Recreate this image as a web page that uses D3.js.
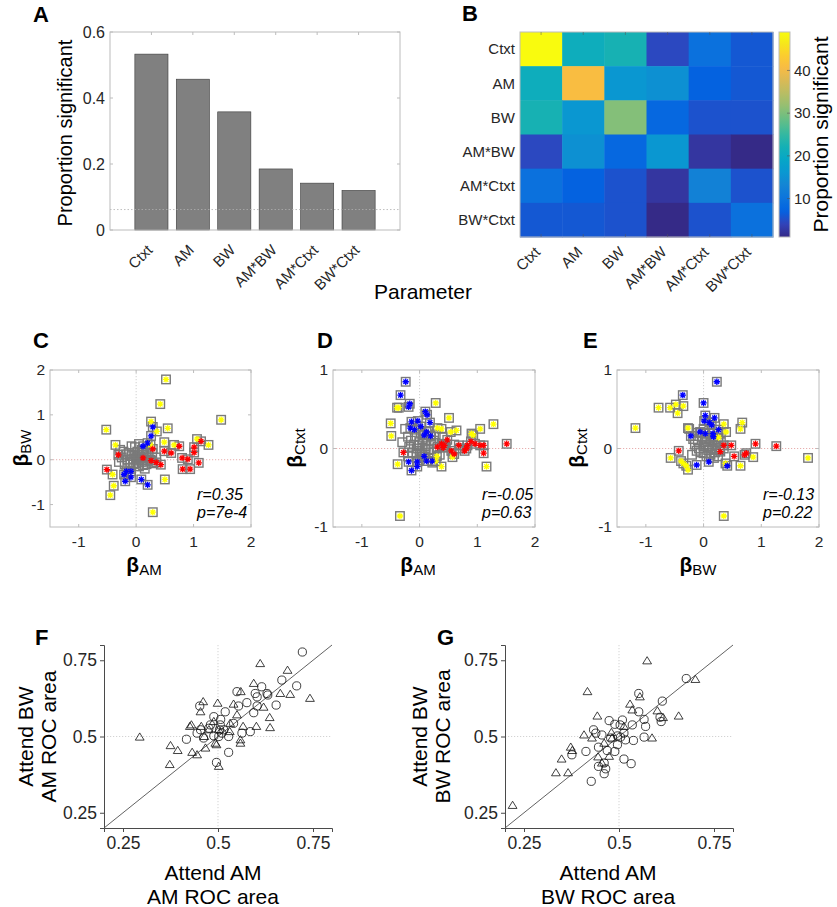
<!DOCTYPE html>
<html><head><meta charset="utf-8">
<script src="https://cdn.jsdelivr.net/npm/d3@7"></script>
<style>
body{margin:0;background:#fff;}
svg{display:block;font-family:"Liberation Sans",Arial,Helvetica,sans-serif;}
</style></head><body>
<svg id="fig" width="837" height="907"></svg>
<script>
// ---------------- DATA ----------------
const params = ["Ctxt","AM","BW","AM*BW","AM*Ctxt","BW*Ctxt"];
const propSignificant = [0.533,0.457,0.358,0.185,0.142,0.120];
const chanceLevel = 0.062;
const propTicks = [0,0.2,0.4,0.6];

const overlapMatrix = [
  [49,21,22.5,4.5,9.5,6],
  [21,41,16,15,7,6],
  [22.5,16,30.5,8,5.5,5.5],
  [4.5,15,8,16,2.5,1],
  [9.5,7,5.5,2.5,12.5,5.5],
  [6,6,5.5,1,5.5,9.5]
];
const cbarTicks = [10,20,30,40];

const betaTicks = [-1,0,1,2];
const ctxtTicks = [-1,0,1];

// Panel C: beta_AM vs beta_BW
const cGrey = [[-0.28,0.22],[-0.22,0.18],[-0.18,0.12],[-0.12,0.15],[-0.08,0.08],[-0.05,0.02],[0.0,0.05],[0.05,0.1],[0.08,0.02],[0.1,-0.05],[0.15,0.05],[0.18,0.12],[0.2,-0.02],[0.22,0.08],[-0.15,0.0],[-0.1,-0.05],[-0.05,-0.1],[0.0,-0.08],[0.05,-0.15],[0.12,-0.12],[-0.2,-0.1],[-0.25,0.05],[0.02,0.18],[0.1,0.22],[-0.02,0.28],[0.05,0.35],[-0.08,0.3],[0.25,0.0],[0.3,-0.08],[0.15,-0.2],[-0.12,-0.18],[0.0,0.0],[0.03,-0.02],[0.07,0.06],[-0.03,0.12],[0.12,0.15],[0.28,0.15],[-0.3,-0.05],[0.35,0.05],[0.18,-0.1]];
const cYellow = [[0.52,1.79],[0.42,1.24],[1.48,0.89],[0.26,0.85],[-0.52,0.67],[0.55,0.70],[0.36,0.63],[-0.36,0.33],[0.49,0.39],[0.66,0.33],[1.06,0.46],[1.26,0.33],[0.25,0.33],[-0.41,-0.33],[0.50,-0.44],[-0.39,-0.58],[-0.45,-0.79],[0.29,-1.17]];
const cRed = [[-0.31,0.11],[-0.51,-0.22],[0.29,0.24],[0.49,0.19],[0.61,0.15],[0.75,0.30],[1.01,0.28],[1.13,0.41],[1.01,0.16],[0.80,0.04],[0.90,0.01],[0.81,-0.21],[0.94,-0.21],[1.09,-0.07],[0.26,-0.02],[0.35,-0.06],[0.43,-0.11],[0.12,0.04]];
const cBlue = [[0.29,0.73],[0.26,0.53],[0.20,0.37],[0.12,0.30],[-0.17,-0.26],[-0.21,-0.33],[-0.19,-0.48],[-0.09,-0.39],[0.09,-0.44],[0.20,-0.56],[-0.09,-0.26]];

// Panel D: beta_AM vs beta_Ctxt
const dGrey = [[-0.25,0.25],[-0.2,0.15],[-0.15,0.1],[-0.1,0.05],[-0.05,0.0],[0.0,0.08],[0.05,0.12],[0.1,0.03],[0.15,-0.02],[0.2,0.06],[0.25,0.1],[-0.12,-0.05],[-0.05,-0.08],[0.0,-0.03],[0.05,-0.1],[0.1,-0.06],[0.18,-0.12],[0.25,-0.05],[0.3,0.0],[0.35,-0.08],[-0.2,-0.1],[0.08,0.18],[0.15,0.22],[0.02,0.2],[-0.08,0.15],[0.12,0.1],[0.2,0.15],[-0.02,0.04],[0.04,-0.05],[0.28,0.18],[-0.18,0.02],[0.4,0.15],[0.22,-0.18],[0.0,-0.15],[0.1,0.0],[0.6,0.05],[0.7,0.0],[0.45,0.02],[-0.3,0.08]];
const dYellow = [[-0.39,0.52],[-0.36,0.52],[0.28,0.58],[0.51,0.39],[-0.50,0.32],[-0.49,0.16],[0.31,0.26],[0.38,0.25],[0.54,0.21],[0.64,0.23],[0.93,0.17],[1.05,0.25],[1.28,0.31],[-0.38,-0.20],[0.30,-0.10],[0.38,-0.23],[0.57,-0.11],[0.28,-0.16],[1.16,-0.23],[-0.34,-0.86],[0.90,0.19]];
const dRed = [[-0.28,-0.05],[0.31,0.02],[0.38,0.06],[0.43,0.04],[0.48,0.11],[0.55,-0.03],[0.60,-0.07],[0.68,0.04],[0.78,-0.03],[0.83,0.04],[0.89,0.09],[0.96,0.06],[1.05,0.04],[1.11,0.04],[1.11,-0.06],[1.51,0.06],[0.81,0.0],[0.41,0.01]];
const dBlue = [[-0.24,0.85],[-0.33,0.68],[-0.17,0.57],[-0.19,0.53],[0.10,0.47],[0.13,0.43],[-0.14,0.34],[-0.03,0.35],[0.18,0.33],[0.02,0.28],[-0.16,0.26],[-0.09,0.24],[0.12,0.21],[0.08,0.17],[0.19,0.16],[-0.19,-0.17],[-0.04,-0.17],[-0.04,-0.23],[-0.14,-0.28],[0.12,-0.16],[0.22,-0.16],[0.08,-0.10]];

// Panel E: beta_BW vs beta_Ctxt
const eGrey = [[-0.15,0.05],[-0.1,0.1],[-0.08,0.0],[-0.05,-0.05],[0.0,0.03],[0.02,0.08],[0.05,0.12],[0.08,-0.02],[0.1,0.05],[0.12,-0.08],[0.15,0.0],[0.18,0.1],[0.2,-0.05],[0.22,0.04],[0.25,0.12],[0.28,-0.02],[-0.12,-0.03],[-0.02,0.15],[0.05,-0.1],[0.0,-0.06],[-0.05,0.2],[0.1,0.2],[0.3,0.08],[-0.18,0.12],[0.15,0.15],[0.08,0.02],[0.12,0.08],[0.35,0.0],[-0.1,0.2],[0.25,-0.1],[0.04,0.05],[-0.2,-0.08],[0.3,0.2],[0.18,-0.12],[0.0,0.25],[-0.25,0.25]];
const eYellow = [[-1.18,0.26],[-0.78,0.52],[-0.58,0.52],[-0.48,0.56],[-0.45,0.45],[-0.35,0.54],[-0.27,0.26],[-0.57,-0.12],[-0.39,-0.16],[-0.35,-0.19],[-0.30,-0.22],[-0.27,-0.27],[0.26,0.14],[0.35,0.31],[0.39,0.21],[0.67,0.33],[0.64,0.25],[0.38,-0.19],[0.64,-0.22],[0.86,-0.11],[1.81,-0.12],[0.35,-0.86]];
const eRed = [[-0.43,-0.03],[0.29,-0.04],[0.35,0.04],[0.48,0.04],[0.53,-0.10],[0.71,-0.08],[0.74,-0.06],[0.90,0.06],[1.26,0.03]];
const eBlue = [[0.23,0.85],[-0.36,0.68],[0.0,0.58],[0.03,0.42],[0.01,0.35],[0.19,0.39],[0.10,0.33],[0.14,0.30],[0.26,0.24],[-0.06,0.21],[0.03,0.19],[0.16,0.19],[0.17,0.15],[-0.22,0.16],[-0.12,-0.21],[0.09,-0.17],[0.41,-0.22]];

const statsC = ["r=0.35","p=7e-4"];
const statsD = ["r=-0.05","p=0.63"];
const statsE = ["r=-0.13","p=0.22"];

// Panel F: AM ROC area (attend AM vs attend BW)
const rocTicks = [0.25,0.5,0.75];
const fTriangles = [[0.611,0.739],[0.683,0.717],[0.594,0.674],[0.560,0.647],[0.664,0.641],[0.690,0.638],[0.742,0.625],[0.461,0.614],[0.499,0.609],[0.541,0.606],[0.454,0.581],[0.620,0.596],[0.636,0.562],[0.430,0.538],[0.426,0.533],[0.566,0.533],[0.601,0.533],[0.637,0.529],[0.456,0.533],[0.294,0.498],[0.375,0.470],[0.394,0.454],[0.432,0.448],[0.445,0.440],[0.373,0.408],[0.502,0.402],[0.496,0.473],[0.493,0.478],[0.559,0.489],[0.559,0.478],[0.467,0.462],[0.464,0.500],[0.476,0.522],[0.489,0.549],[0.532,0.543],[0.550,0.571],[0.531,0.516],[0.502,0.522]];
const fCircles = [[0.722,0.777],[0.615,0.663],[0.668,0.685],[0.707,0.666],[0.550,0.647],[0.598,0.641],[0.603,0.630],[0.629,0.641],[0.631,0.636],[0.576,0.611],[0.603,0.600],[0.653,0.603],[0.452,0.600],[0.554,0.600],[0.594,0.578],[0.519,0.581],[0.489,0.565],[0.507,0.556],[0.480,0.538],[0.476,0.527],[0.454,0.522],[0.445,0.511],[0.417,0.491],[0.462,0.495],[0.506,0.538],[0.504,0.522],[0.510,0.511],[0.502,0.500],[0.528,0.500],[0.541,0.543],[0.563,0.511],[0.585,0.516],[0.528,0.448],[0.496,0.415],[0.489,0.502],[0.515,0.522]];

// Panel G: BW ROC area
const gTriangles = [[0.574,0.748],[0.701,0.687],[0.417,0.647],[0.555,0.630],[0.529,0.606],[0.535,0.587],[0.601,0.584],[0.616,0.562],[0.657,0.567],[0.443,0.567],[0.408,0.505],[0.429,0.495],[0.587,0.495],[0.480,0.513],[0.373,0.465],[0.377,0.454],[0.349,0.426],[0.334,0.381],[0.366,0.381],[0.445,0.433],[0.474,0.435],[0.455,0.413],[0.220,0.274],[0.482,0.495],[0.513,0.533],[0.461,0.478]];
const gCircles = [[0.677,0.690],[0.552,0.641],[0.614,0.616],[0.552,0.581],[0.474,0.552],[0.509,0.554],[0.489,0.540],[0.503,0.538],[0.566,0.556],[0.570,0.533],[0.608,0.563],[0.611,0.549],[0.535,0.538],[0.433,0.522],[0.439,0.511],[0.455,0.505],[0.478,0.495],[0.496,0.502],[0.504,0.498],[0.517,0.489],[0.538,0.487],[0.566,0.498],[0.413,0.451],[0.376,0.440],[0.446,0.465],[0.469,0.454],[0.461,0.413],[0.446,0.402],[0.465,0.394],[0.461,0.378],[0.513,0.426],[0.532,0.411],[0.427,0.353],[0.489,0.451],[0.496,0.473],[0.513,0.511]];

// ---------------- DRAWING ----------------
const svg = d3.select("#fig");
const TXT = "#262626";
const BOX = "#bcbcbc";

function letter(x, y, s){
  svg.append("text").attr("x",x).attr("y",y).attr("font-size",22).attr("font-weight","bold").attr("fill","#000").text(s);
}

// parula colormap (subsampled)
const parulaStops = [
 [0.2081,0.1663,0.5292],[0.1959,0.2645,0.7279],[0.0117,0.3875,0.8820],[0.0498,0.4586,0.8641],
 [0.0793,0.5200,0.8312],[0.0343,0.5966,0.8199],[0.0228,0.6535,0.7768],[0.0843,0.6928,0.7062],
 [0.2178,0.7250,0.6193],[0.3953,0.7459,0.5244],[0.5709,0.7485,0.4494],[0.7184,0.7411,0.3905],
 [0.8507,0.7299,0.3360],[0.9739,0.7314,0.2666],[0.9880,0.8066,0.1794],[0.9598,0.9218,0.0948],[0.9763,0.9831,0.0538]];
const parulaPos = parulaStops.map((d,i)=> i===parulaStops.length-1 ? 1 : i*4/63);
const parula = d3.scaleLinear().domain(parulaPos)
  .range(parulaStops.map(c=>d3.rgb(c[0]*255,c[1]*255,c[2]*255).toString()))
  .interpolate(d3.interpolateRgb).clamp(true);

// ===== Panel A =====
(function(){
  const L=110,R=400,T=32,B=230;
  const g = svg.append("g");
  const x = d3.scaleLinear().domain([0,7]).range([L,R]);
  const y = d3.scaleLinear().domain([0,0.6]).range([B,T]);
  const bw = x(0.8)-x(0);
  g.selectAll("rect.bar").data(propSignificant).enter().append("rect")
    .attr("x",(d,i)=>x(i+1)-bw/2).attr("width",bw)
    .attr("y",d=>y(d)).attr("height",d=>B-y(d))
    .attr("fill","#808080").attr("stroke","#3a3a3a").attr("stroke-width",0.6);
  g.append("line").attr("x1",L).attr("x2",R).attr("y1",y(chanceLevel)).attr("y2",y(chanceLevel))
    .attr("stroke","#b0b0b0").attr("stroke-width",0.8).attr("stroke-dasharray","1.5,2");
  g.append("rect").attr("x",L).attr("y",T).attr("width",R-L).attr("height",B-T)
    .attr("fill","none").attr("stroke",BOX).attr("stroke-width",1);
  params.forEach((p,i)=>{
    g.append("line").attr("x1",x(i+1)).attr("x2",x(i+1)).attr("y1",T).attr("y2",T+3).attr("stroke",BOX);
  });
  propTicks.forEach(t=>{
    g.append("line").attr("x1",R).attr("x2",R-3).attr("y1",y(t)).attr("y2",y(t)).attr("stroke",BOX);
    g.append("line").attr("x1",L).attr("x2",L+3).attr("y1",y(t)).attr("y2",y(t)).attr("stroke",BOX);
    g.append("text").attr("x",L-5).attr("y",y(t)).attr("dy","0.35em").attr("text-anchor","end")
      .attr("font-size",16).attr("fill",TXT).text(t===0?"0":d3.format(".1f")(t));
  });
  params.forEach((p,i)=>{
    g.append("text").attr("transform",`translate(${x(i+1)+2},${B+21}) rotate(-45)`)
      .attr("text-anchor","end").attr("font-size",15).attr("fill",TXT).text(p);
  });
  g.append("text").attr("transform",`translate(72,${(T+B)/2+2}) rotate(-90)`).attr("text-anchor","middle")
    .attr("font-size",20).attr("fill","#000").text("Proportion significant");
  svg.append("text").attr("x",423).attr("y",299).attr("text-anchor","middle").attr("font-size",21).attr("fill","#000").text("Parameter");
  letter(33,22,"A");
})();

// ===== Panel B =====
(function(){
  const L=520,R=773,T=32,B=237;
  const g = svg.append("g");
  const x = d3.scaleBand().domain(params).range([L,R]);
  const y = d3.scaleBand().domain(params).range([T,B]);
  const flat = overlapMatrix.flat();
  const ext = d3.extent(flat);
  const c = d3.scaleLinear().domain(ext).range([0,1]);
  overlapMatrix.forEach((row,i)=>row.forEach((v,j)=>{
    g.append("rect").attr("x",x(params[j])).attr("y",y(params[i]))
      .attr("width",x.bandwidth()+0.5).attr("height",y.bandwidth()+0.5)
      .attr("fill",parula(c(v)));
  }));
  g.append("rect").attr("x",L).attr("y",T).attr("width",R-L).attr("height",B-T)
    .attr("fill","none").attr("stroke",BOX).attr("stroke-width",1);
  params.forEach(p=>{
    const cx = x(p)+x.bandwidth()/2, cy = y(p)+y.bandwidth()/2;
    g.append("line").attr("x1",cx).attr("x2",cx).attr("y1",T).attr("y2",T+3).attr("stroke","#555").attr("stroke-opacity",0.5);
    g.append("line").attr("x1",cx).attr("x2",cx).attr("y1",B).attr("y2",B-3).attr("stroke","#555").attr("stroke-opacity",0.5);
    g.append("text").attr("x",L-5).attr("y",cy).attr("dy","0.35em").attr("text-anchor","end")
      .attr("font-size",15).attr("fill",TXT).text(p);
    g.append("text").attr("transform",`translate(${cx},${B+16}) rotate(-45)`)
      .attr("text-anchor","end").attr("font-size",15).attr("fill",TXT).text(p);
  });
  // colorbar
  const CL=779,CR=790;
  const cy = d3.scaleLinear().domain(ext).range([B,T]);
  const defs = svg.append("defs");
  const grad = defs.append("linearGradient").attr("id","cbar").attr("x1",0).attr("y1",1).attr("x2",0).attr("y2",0);
  d3.range(0,1.0001,0.02).forEach(t=>grad.append("stop").attr("offset",t).attr("stop-color",parula(t)));
  g.append("rect").attr("x",CL).attr("y",T).attr("width",CR-CL).attr("height",B-T).attr("fill","url(#cbar)")
    .attr("stroke",BOX).attr("stroke-width",1);
  cbarTicks.forEach(t=>{
    g.append("line").attr("x1",CR).attr("x2",CR-3).attr("y1",cy(t)).attr("y2",cy(t)).attr("stroke","#555").attr("stroke-opacity",0.6);
    g.append("text").attr("x",CR+4).attr("y",cy(t)).attr("dy","0.35em").attr("font-size",15).attr("fill",TXT).text(t);
  });
  g.append("text").attr("transform",`translate(828,${(T+B)/2}) rotate(-90)`).attr("text-anchor","middle")
    .attr("font-size",21).attr("fill","#000").text("Proportion significant");
  letter(462,21,"B");
})();

// ===== Panels C, D, E =====
function asterisk(r){
  const d=r*0.72;
  return `M${-r},0L${r},0M0,${-r}L0,${r}M${-d},${-d}L${d},${d}M${-d},${d}L${d},${-d}`;
}
function betaPanel(o){
  const g = svg.append("g");
  const x = d3.scaleLinear().domain(o.xDom).range([o.L,o.R]);
  const y = d3.scaleLinear().domain(o.yDom).range([o.B,o.T]);
  g.append("rect").attr("x",o.L).attr("y",o.T).attr("width",o.R-o.L).attr("height",o.B-o.T)
    .attr("fill","none").attr("stroke",BOX).attr("stroke-width",1);
  g.append("line").attr("x1",x(0)).attr("x2",x(0)).attr("y1",o.T).attr("y2",o.B)
    .attr("stroke","#c4c4c4").attr("stroke-width",0.8).attr("stroke-dasharray","1.2,1.8");
  g.append("line").attr("x1",o.L).attr("x2",o.R).attr("y1",y(0)).attr("y2",y(0))
    .attr("stroke","#e29a9a").attr("stroke-width",0.8).attr("stroke-dasharray","1.2,1.8");
  o.xTicks.forEach(t=>{
    g.append("line").attr("x1",x(t)).attr("x2",x(t)).attr("y1",o.B).attr("y2",o.B-3).attr("stroke",BOX);
    g.append("line").attr("x1",x(t)).attr("x2",x(t)).attr("y1",o.T).attr("y2",o.T+3).attr("stroke",BOX);
    g.append("text").attr("x",x(t)).attr("y",o.B+20).attr("text-anchor","middle").attr("font-size",15.5).attr("fill",TXT).text(t);
  });
  o.yTicks.forEach(t=>{
    g.append("line").attr("x1",o.L).attr("x2",o.L+3).attr("y1",y(t)).attr("y2",y(t)).attr("stroke",BOX);
    g.append("line").attr("x1",o.R).attr("x2",o.R-3).attr("y1",y(t)).attr("y2",y(t)).attr("stroke",BOX);
    g.append("text").attr("x",o.L-5).attr("y",y(t)).attr("dy","0.35em").attr("text-anchor","end").attr("font-size",15.5).attr("fill",TXT).text(t);
  });
  const all = o.grey.concat(o.yellow,o.red,o.blue);
  const s=8.5;
  g.selectAll("rect.sq").data(all).enter().append("rect")
    .attr("x",d=>x(d[0])-s/2).attr("y",d=>y(d[1])-s/2).attr("width",s).attr("height",s)
    .attr("fill","none").attr("stroke","#7a7a7a").attr("stroke-width",1.4);
  [[o.yellow,"#ffff00"],[o.red,"#ff0000"],[o.blue,"#0000ff"]].forEach(([arr,col])=>{
    g.selectAll(null).data(arr).enter().append("path")
      .attr("transform",d=>`translate(${x(d[0])},${y(d[1])})`)
      .attr("d",asterisk(3.2)).attr("stroke",col).attr("stroke-width",1.3).attr("fill","none");
  });
  o.stats.forEach((s2,i)=>{
    g.append("text").attr("x",o.statX).attr("y",i===0?500:518).attr("font-size",16).attr("font-style","italic").attr("fill","#000").text(s2);
  });
  const xl = g.append("text").attr("x",o.xlabX).attr("y",572).attr("text-anchor","middle").attr("fill","#000");
  xl.append("tspan").attr("font-size",21).attr("font-weight","bold").text("β");
  xl.append("tspan").attr("font-size",15).attr("dy",3).text(o.xSub);
  const yl = g.append("text").attr("transform",`translate(${o.ylabX},${o.ylabY}) rotate(-90)`).attr("text-anchor","middle").attr("fill","#000");
  yl.append("tspan").attr("font-size",21).attr("font-weight","bold").text("β");
  yl.append("tspan").attr("font-size",15).attr("dy",3).text(o.ySub);
  letter(o.letterX,348,o.letter);
}
betaPanel({L:50,R:251,T:370,B:527,xDom:[-1.5,2],yDom:[-1.5,2],xTicks:betaTicks,yTicks:betaTicks,
  grey:cGrey,yellow:cYellow,red:cRed,blue:cBlue,stats:statsC,statX:197,xlabX:144,xSub:"AM",ySub:"BW",ylabX:28,ylabY:448,letter:"C",letterX:33});
betaPanel({L:333,R:535,T:370,B:527,xDom:[-1.5,2],yDom:[-1,1],xTicks:betaTicks,yTicks:ctxtTicks,
  grey:dGrey,yellow:dYellow,red:dRed,blue:dBlue,stats:statsD,statX:482,xlabX:418,xSub:"AM",ySub:"Ctxt",ylabX:302,ylabY:448,letter:"D",letterX:317});
betaPanel({L:617,R:819,T:370,B:527,xDom:[-1.5,2],yDom:[-1,1],xTicks:betaTicks,yTicks:ctxtTicks,
  grey:eGrey,yellow:eYellow,red:eRed,blue:eBlue,stats:statsE,statX:763,xlabX:698,xSub:"BW",ySub:"Ctxt",ylabX:584,ylabY:448,letter:"E",letterX:583});

// ===== Panels F, G =====
function rocPanel(o){
  const g = svg.append("g");
  const x = d3.scaleLinear().domain([0.2,0.8]).range([o.L,o.R]);
  const y = d3.scaleLinear().domain([0.2,0.8]).range([o.B,o.T]);
  g.append("line").attr("x1",x(0.5)).attr("x2",x(0.5)).attr("y1",o.T).attr("y2",o.B)
    .attr("stroke","#c8c8c8").attr("stroke-width",0.8).attr("stroke-dasharray","1.2,1.8");
  g.append("line").attr("x1",o.L).attr("x2",o.R).attr("y1",y(0.5)).attr("y2",y(0.5))
    .attr("stroke","#c8c8c8").attr("stroke-width",0.8).attr("stroke-dasharray","1.2,1.8");
  g.append("line").attr("x1",x(0.2)).attr("y1",y(0.2)).attr("x2",x(0.8)).attr("y2",y(0.8))
    .attr("stroke","#3a3a3a").attr("stroke-width",0.8);
  const ax = d3.axisBottom(x).tickValues(rocTicks).tickSize(4).tickFormat(d3.format(""));
  const ay = d3.axisLeft(y).tickValues(rocTicks).tickSize(4).tickFormat(d3.format(""));
  const gx = g.append("g").attr("transform",`translate(0,${o.B})`).call(ax);
  const gy = g.append("g").attr("transform",`translate(${o.L},0)`).call(ay);
  [gx,gy].forEach(a=>{
    a.select(".domain").attr("stroke","#4a4a4a").attr("stroke-width",1);
    a.selectAll(".tick line").attr("stroke","#4a4a4a");
    a.selectAll("text").attr("font-size",17.5).attr("fill",TXT).attr("font-family","Liberation Sans, Arial, sans-serif");
  });
  gx.selectAll("text").attr("dy","0.75em").attr("y",8);
  gy.selectAll("text").attr("x",-7);
  const tri = "M0,-4.2L4.4,3L-4.4,3Z";
  g.selectAll(null).data(o.tri).enter().append("path").attr("d",tri)
    .attr("transform",d=>`translate(${x(d[0])},${y(d[1])})`)
    .attr("fill","none").attr("stroke","#111").attr("stroke-width",0.8);
  g.selectAll(null).data(o.circ).enter().append("circle")
    .attr("cx",d=>x(d[0])).attr("cy",d=>y(d[1])).attr("r",4.1)
    .attr("fill","none").attr("stroke","#111").attr("stroke-width",0.8);
  const cx = o.xlabX;
  g.append("text").attr("x",cx).attr("y",880).attr("text-anchor","middle").attr("font-size",21).attr("fill","#000").text(o.xl1);
  g.append("text").attr("x",cx).attr("y",904).attr("text-anchor","middle").attr("font-size",21).attr("fill","#000").text(o.xl2);
  const cy = (o.T+o.B)/2;
  g.append("text").attr("transform",`translate(${o.yl1X},${cy}) rotate(-90)`).attr("text-anchor","middle").attr("font-size",21).attr("fill","#000").text(o.yl1);
  g.append("text").attr("transform",`translate(${o.yl2X},${cy}) rotate(-90)`).attr("text-anchor","middle").attr("font-size",21).attr("fill","#000").text(o.yl2);
  letter(o.letterX,645,o.letter);
}
rocPanel({L:104,R:332,T:645,B:828,tri:fTriangles,circ:fCircles,xlabX:213,xl1:"Attend AM",xl2:"AM ROC area",
  yl1:"Attend BW",yl2:"AM ROC area",yl1X:33,yl2X:56,letter:"F",letterX:35});
rocPanel({L:505,R:733,T:645,B:828,tri:gTriangles,circ:gCircles,xlabX:608,xl1:"Attend AM",xl2:"BW ROC area",
  yl1:"Attend BW",yl2:"BW ROC area",yl1X:427,yl2X:450,letter:"G",letterX:437});
</script>
</body></html>
